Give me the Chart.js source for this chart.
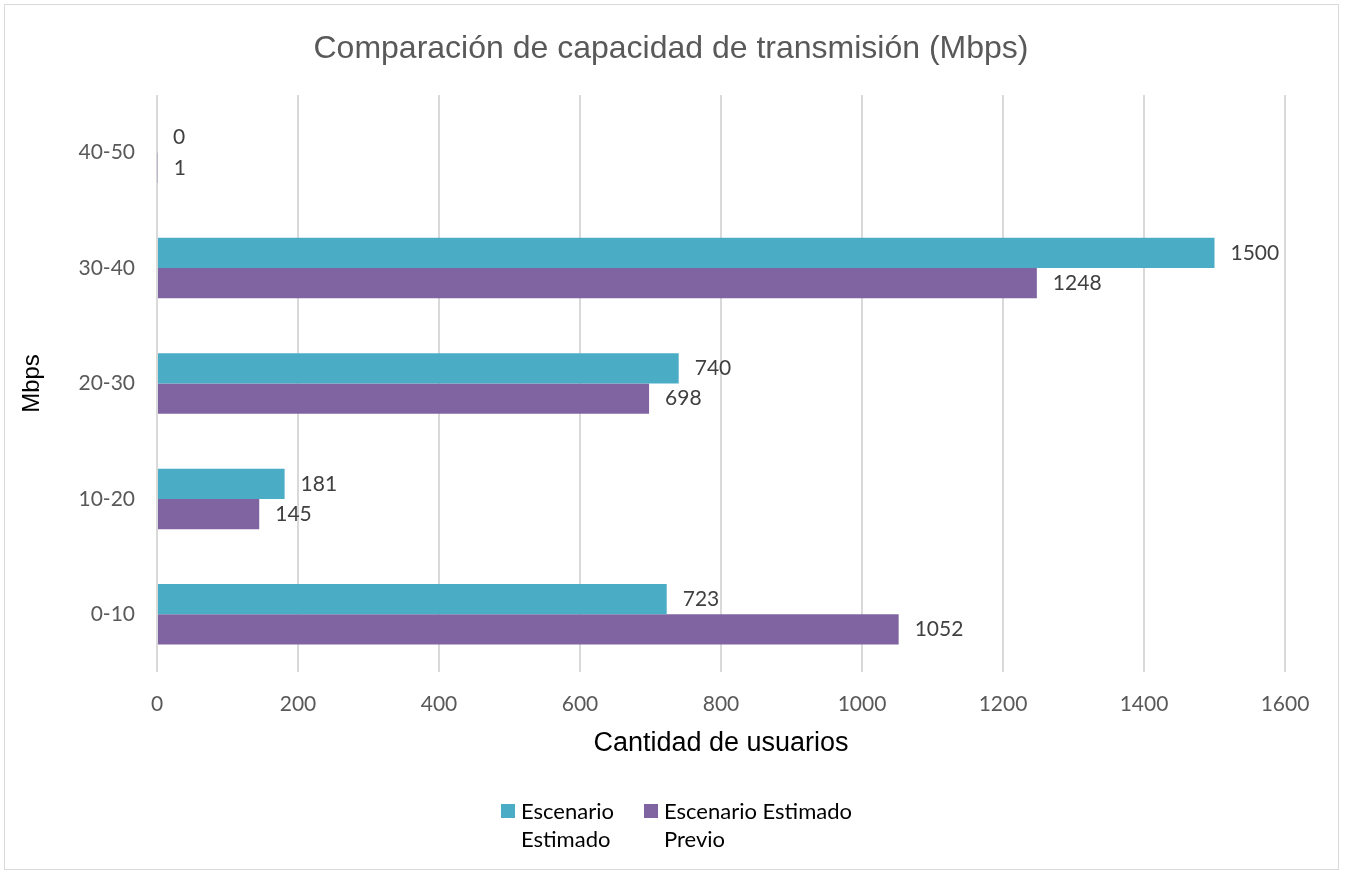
<!DOCTYPE html>
<html>
<head>
<meta charset="utf-8">
<script src="https://cdn.jsdelivr.net/npm/chart.js@4"></script>
<style>
  body { margin: 0; background: #ffffff; }
  #frame {
    position: absolute; left: 4px; top: 4px;
    width: 1335px; height: 866px;
    border: 1.5px solid #d9d9d9; box-sizing: border-box;
  }
  #wrap { position: absolute; left: 0; top: 0; width: 1332px; height: 863px; }
  #legend {
    position: absolute; left: 496px; top: 792px;
    display: flex; font-family: Lato, "Open Sans", sans-serif;
    font-size: 22px; line-height: 28px; color: #000;
  }
  .item { display: flex; align-items: flex-start; margin-right: 30px; }
  .box { width: 14px; height: 14px; margin: 7px 6px 0 0; }
</style>
</head>
<body>
<div id="frame">
  <div id="wrap"><canvas id="chart"></canvas></div>
  <div id="legend"></div>
</div>
<script>
const categories = ["40-50", "30-40", "20-30", "10-20", "0-10"];
const estimado = [0, 1500, 740, 181, 723];
const previo = [1, 1248, 698, 145, 1052];
const seriesNames = [["Escenario", "Estimado"], ["Escenario Estimado", "Previo"]];
const seriesColors = ["#4bacc6", "#8064a2"];

const valueLabels = {
  id: "valueLabels",
  afterDatasetsDraw(chart) {
    const ctx = chart.ctx;
    ctx.save();
    ctx.font = "21px Lato, 'Open Sans', sans-serif";
    ctx.fillStyle = "#404040";
    ctx.textAlign = "left";
    ctx.textBaseline = "middle";
    chart.data.datasets.forEach((ds, i) => {
      chart.getDatasetMeta(i).data.forEach((bar, j) => {
        ctx.fillText(String(ds.data[j]), bar.x + 16, bar.y);
      });
    });
    ctx.restore();
  },
};

function buildLegend() {
  const legend = document.getElementById("legend");
  seriesNames.forEach((name, i) => {
    const item = document.createElement("div");
    item.className = "item";
    const box = document.createElement("div");
    box.className = "box";
    box.style.background = seriesColors[i];
    const txt = document.createElement("div");
    txt.innerHTML = name.join("<br>");
    item.appendChild(box);
    item.appendChild(txt);
    legend.appendChild(item);
  });
}

function createChart() {
  const ctx = document.getElementById("chart").getContext("2d");
  return new Chart(ctx, {
    type: "bar",
    data: {
      labels: categories,
      datasets: [
        {
          label: seriesNames[0].join(" "),
          data: estimado,
          backgroundColor: seriesColors[0],
          categoryPercentage: 0.524,
          barPercentage: 1,
        },
        {
          label: seriesNames[1].join(" "),
          data: previo,
          backgroundColor: seriesColors[1],
          categoryPercentage: 0.524,
          barPercentage: 1,
        },
      ],
    },
    options: {
      indexAxis: "y",
      responsive: true,
      maintainAspectRatio: false,
      animation: false,
      // symmetric side padding keeps the title centred on the canvas
      layout: { padding: { left: 52, right: 52, top: 0, bottom: 96 } },
      plugins: {
        legend: { display: false },
        tooltip: { enabled: false },
        title: {
          display: true,
          text: "Comparación de capacidad de transmisión (Mbps)",
          color: "#595959",
          font: { family: "'Liberation Sans', Arial, sans-serif", size: 32, weight: "normal" },
          padding: { top: 25, bottom: 26.6 },
        },
      },
      scales: {
        x: {
          min: 0,
          max: 1600,
          ticks: {
            stepSize: 200,
            color: "#595959",
            padding: 20,
            font: { family: "Lato, 'Open Sans', sans-serif", size: 21 },
            callback: (v) => String(v),
          },
          grid: { color: "#d9d9d9", lineWidth: 2, drawTicks: false },
          border: { display: false },
          title: {
            display: true,
            text: "Cantidad de usuarios",
            color: "#000000",
            font: { family: "'Liberation Sans', Arial, sans-serif", size: 27 },
            padding: { top: 0, bottom: 12 },
          },
          afterFit(scale) {
            scale.height = 100;
          },
        },
        y: {
          ticks: {
            color: "#595959",
            padding: 22,
            font: { family: "Lato, 'Open Sans', sans-serif", size: 21 },
          },
          grid: { display: false, drawTicks: false },
          border: { display: false },
          title: {
            display: true,
            text: "Mbps",
            color: "#000000",
            font: { family: "'Liberation Sans', Arial, sans-serif", size: 24 },
            padding: { top: -39, bottom: 0 },
          },
          afterFit(scale) {
            scale.width = 100;
          },
        },
      },
    },
    plugins: [valueLabels],
  });
}

buildLegend();
createChart();
</script>
</body>
</html>
